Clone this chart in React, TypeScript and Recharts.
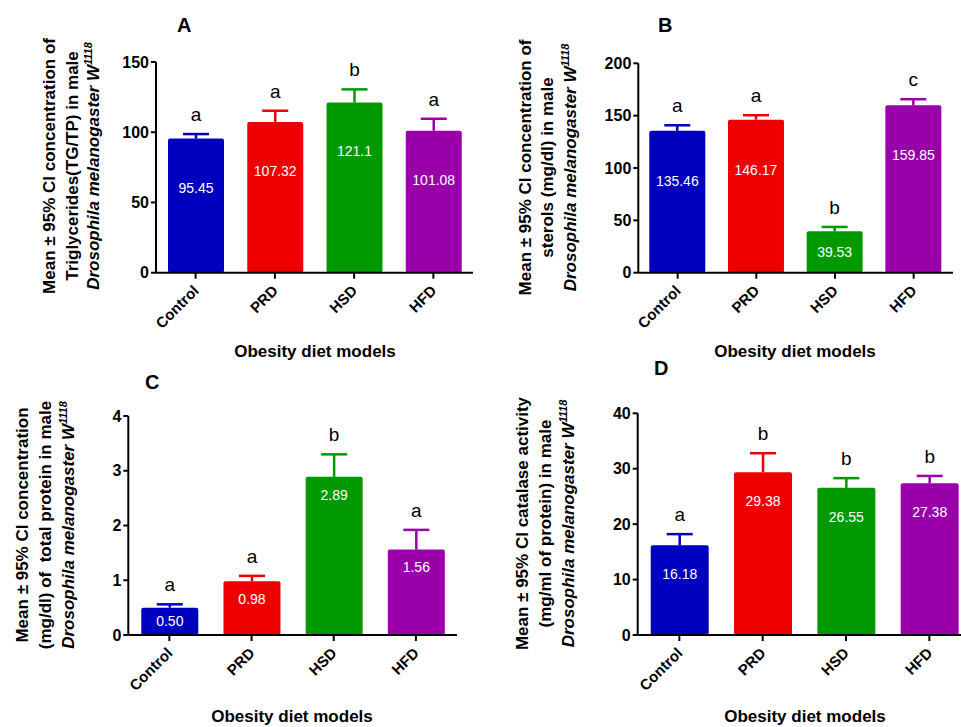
import { BarChart, Bar, XAxis, YAxis } from 'recharts'

const categories = ['Control', 'PRD', 'HSD', 'HFD']
const barColors = ['#0000C0', '#EE0000', '#009900', '#9900AA']

// A: triglycerides
const tgMean = [95.45, 107.32, 121.1, 101.08]
const tgUpper = [98.7, 115.3, 130.5, 109.6]
const tgLetters = ['a', 'a', 'b', 'a']
const tgTicks = [0, 50, 100, 150]

// B: sterols
const sterolMean = [135.46, 146.17, 39.53, 159.85]
const sterolUpper = [140.8, 150.4, 43.7, 165.7]
const sterolLetters = ['a', 'a', 'b', 'c']
const sterolTicks = [0, 50, 100, 150, 200]

// C: total protein
const proteinMean = [0.5, 0.98, 2.89, 1.56]
const proteinUpper = [0.56, 1.08, 3.3, 1.92]
const proteinLetters = ['a', 'a', 'b', 'a']
const proteinTicks = [0, 1, 2, 3, 4]

// D: catalase
const catalaseMean = [16.18, 29.38, 26.55, 27.38]
const catalaseUpper = [18.2, 32.8, 28.3, 28.7]
const catalaseLetters = ['a', 'b', 'b', 'b']
const catalaseTicks = [0, 10, 20, 30, 40]

const xTitle = 'Obesity diet models'
const yTitleA = ['Mean ± 95% CI concentration of', 'Triglycerides(TG/TP) in male']
const yTitleB = ['Mean ± 95% CI concentration of', 'sterols (mg/dl) in male']
const yTitleC = ['Mean ± 95% CI concentration', '(mg/dl) of  total protein in male']
const yTitleD = ['Mean ± 95% CI catalase activity', '(mg/ml of protein) in male']

const FONT = '"Liberation Sans", Arial, sans-serif'

type Row = { name: string; mean: number; upper: number; letter: string; label: string }

function buildRows(means: number[], uppers: number[], letters: string[], digits?: number): Row[] {
  return categories.map((name, i) => ({
    name,
    mean: means[i],
    upper: uppers[i],
    letter: letters[i],
    label: digits != null ? means[i].toFixed(digits) : String(means[i]),
  }))
}

// bar + upper-only CI whisker + value + significance letter, all from the bar's own scale
function makeBarShape(labelOffset: number) {
  return (props: any) => {
    const { x, y, width, height, payload, index } = props
    const color = barColors[index]
    const perUnit = height / payload.mean
    const errTop = y - (payload.upper - payload.mean) * perUnit
    const cx = x + width / 2
    const labelY = y + Math.min(labelOffset, height / 2)
    return (
      <g>
        <line x1={cx} x2={cx} y1={y} y2={errTop} stroke={color} strokeWidth={2.5} />
        <line x1={cx - 13} x2={cx + 13} y1={errTop} y2={errTop} stroke={color} strokeWidth={2.5} />
        <rect x={x} y={y} width={width} height={height} fill={color} rx={2} />
        <text x={cx} y={labelY} dy="0.35em" fill="#fff" fontSize={14} textAnchor="middle" fontFamily={FONT}>
          {payload.label}
        </text>
        <text x={cx} y={errTop - 13} fill="#000" fontSize={19} textAnchor="middle" fontFamily={FONT}>
          {payload.letter}
        </text>
      </g>
    )
  }
}

function CategoryTick(props: any) {
  const { x, y, payload } = props
  const ax = x + 4
  const ay = y + 13
  return (
    <text
      x={ax}
      y={ay}
      transform={`rotate(-45 ${ax} ${ay})`}
      textAnchor="end"
      fontSize={15}
      fontWeight="bold"
      fontFamily={FONT}
      fill="#000"
    >
      {payload.value}
    </text>
  )
}

interface PanelProps {
  left: number
  top: number
  width: number
  height: number
  marginTop: number
  marginRight: number
  yWidth: number
  xHeight: number
  rows: Row[]
  ticks: number[]
  barSize: number
  labelOffset: number
}

function Panel(p: PanelProps) {
  return (
    <div style={{ position: 'absolute', left: p.left, top: p.top }}>
      <BarChart
        width={p.width}
        height={p.height}
        data={p.rows}
        margin={{ top: p.marginTop, right: p.marginRight, bottom: 0, left: 0 }}
      >
        <XAxis
          dataKey="name"
          interval={0}
          height={p.xHeight}
          tick={<CategoryTick />}
          tickSize={6}
          tickMargin={0}
          axisLine={{ stroke: '#000', strokeWidth: 2 }}
          tickLine={{ stroke: '#000', strokeWidth: 2 }}
        />
        <YAxis
          width={p.yWidth}
          domain={[0, p.ticks[p.ticks.length - 1]]}
          ticks={p.ticks}
          interval={0}
          tickSize={5}
          tickMargin={2}
          tick={{ fontSize: 16, fontWeight: 'bold', fill: '#000', fontFamily: FONT }}
          axisLine={{ stroke: '#000', strokeWidth: 2 }}
          tickLine={{ stroke: '#000', strokeWidth: 2 }}
        />
        <Bar
          dataKey="mean"
          barSize={p.barSize}
          shape={makeBarShape(p.labelOffset)}
          isAnimationActive={false}
        />
      </BarChart>
    </div>
  )
}

function YTitle({ baselines, cy, lines }: { baselines: number[]; cy: number; lines: string[] }) {
  const common = { fontSize: 17, fontWeight: 'bold' as const, fontFamily: FONT, fill: '#000', textAnchor: 'middle' as const }
  return (
    <g>
      {lines.map((t, i) => (
        <text key={i} x={baselines[i]} y={cy} transform={`rotate(-90 ${baselines[i]} ${cy})`} style={{ whiteSpace: 'pre' }} {...common}>
          {t}
        </text>
      ))}
      <text x={baselines[2]} y={cy} transform={`rotate(-90 ${baselines[2]} ${cy})`} {...common} fontStyle="italic">
        Drosophila melanogaster W
        <tspan dy={-7} fontSize={11}>1118</tspan>
      </text>
    </g>
  )
}

function Overlay() {
  const xt = { fontSize: 17, fontWeight: 'bold' as const, fontFamily: FONT, fill: '#000', textAnchor: 'middle' as const }
  const pl = { fontSize: 20, fontWeight: 'bold' as const, fontFamily: FONT, fill: '#000' }
  return (
    <svg width={961} height={727} style={{ position: 'absolute', left: 0, top: 0, pointerEvents: 'none' }}>
      <text x={177} y={32} {...pl}>A</text>
      <text x={658} y={32} {...pl}>B</text>
      <text x={145} y={389} {...pl}>C</text>
      <text x={654} y={375} {...pl}>D</text>
      <text x={315} y={357} {...xt}>{xTitle}</text>
      <text x={795} y={357} {...xt}>{xTitle}</text>
      <text x={292} y={722} {...xt}>{xTitle}</text>
      <text x={805} y={722} {...xt}>{xTitle}</text>
      <YTitle baselines={[55, 77.5, 99]} cy={166} lines={yTitleA} />
      <YTitle baselines={[530.5, 552.5, 575.5]} cy={167.5} lines={yTitleB} />
      <YTitle baselines={[28, 51, 74]} cy={525} lines={yTitleC} />
      <YTitle baselines={[528, 550.5, 574]} cy={523.5} lines={yTitleD} />
    </svg>
  )
}

export default function App() {
  return (
    <div style={{ position: 'relative', width: 961, height: 727, overflow: 'hidden', background: '#fff', fontFamily: FONT }}>
      <style>{'body{margin:0}'}</style>
      <Panel left={0} top={0} width={480} height={360} marginTop={62} marginRight={7} yWidth={156} xHeight={87.3}
        rows={buildRows(tgMean, tgUpper, tgLetters)} ticks={tgTicks} barSize={56} labelOffset={49} />
      <Panel left={480} top={0} width={481} height={360} marginTop={63.3} marginRight={8} yWidth={158.3} xHeight={87.3}
        rows={buildRows(sterolMean, sterolUpper, sterolLetters)} ticks={sterolTicks} barSize={56} labelOffset={50} />
      <Panel left={0} top={360} width={480} height={367} marginTop={56} marginRight={23} yWidth={128.3} xHeight={92}
        rows={buildRows(proteinMean, proteinUpper, proteinLetters, 2)} ticks={proteinTicks} barSize={57} labelOffset={18} />
      <Panel left={480} top={360} width={491} height={367} marginTop={53.3} marginRight={0} yWidth={157.7} xHeight={92}
        rows={buildRows(catalaseMean, catalaseUpper, catalaseLetters)} ticks={catalaseTicks} barSize={58} labelOffset={29} />
      <Overlay />
    </div>
  )
}
